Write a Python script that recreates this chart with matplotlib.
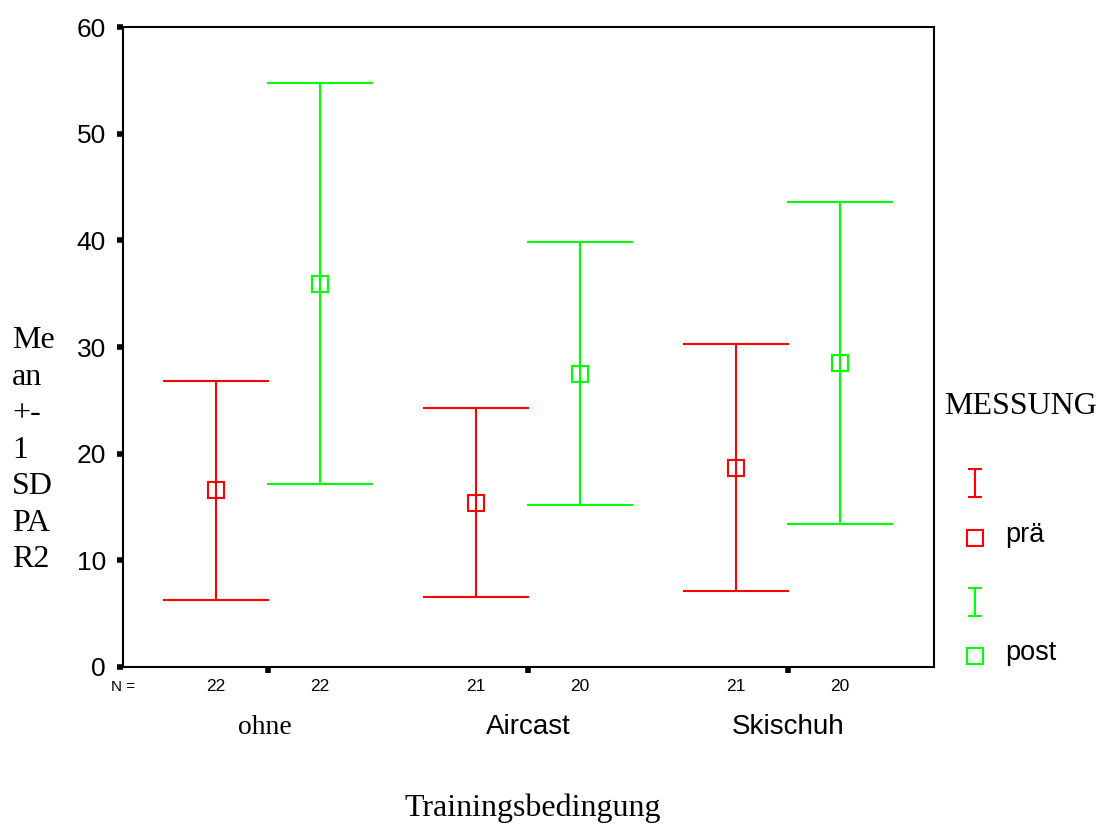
import matplotlib.pyplot as plt
from matplotlib.lines import Line2D
from matplotlib.path import Path
import numpy as np

# Daten (Mean +- 1 SD)
bedingungen = ["ohne", "Aircast", "Skischuh"]
mean_prae = [16.55, 15.4, 18.7]
sd_prae = [10.3, 8.87, 11.55]
mean_post = [35.95, 27.5, 28.5]
sd_post = [18.8, 12.34, 15.08]
n_prae = [22, 21, 21]
n_post = [22, 20, 20]
y_ticks = [0, 10, 20, 30, 40, 50, 60]

rot = "#ff0000"
gruen = "#00ff00"
serif = "Liberation Serif"
sans = "Liberation Sans"

fig = plt.figure(figsize=(11.01, 8.26), dpi=100)
ax = fig.add_axes([0.1117, 0.1925, 0.7366, 0.7748])

x = np.arange(1, len(bedingungen) + 1)
off = 0.2

ax.errorbar(x - off, mean_prae, yerr=sd_prae, fmt="s", mfc="none", mec=rot, ms=11.5,
            mew=1.5, ecolor=rot, elinewidth=1.5, capsize=38, capthick=1.5)
ax.errorbar(x + off, mean_post, yerr=sd_post, fmt="s", mfc="none", mec=gruen, ms=11.5,
            mew=1.5, ecolor=gruen, elinewidth=1.5, capsize=38, capthick=1.5)

ax.set_xlim(0.4423, 3.5615)
ax.set_ylim(0, 60)
ax.set_yticks(y_ticks)
ax.set_xticks(x)
ax.set_xticklabels([])
ax.tick_params(axis="both", direction="out", length=4.3, width=4, color="black")
ax.tick_params(axis="y", pad=8, labelsize=19)
for lab in ax.get_yticklabels():
    lab.set_fontfamily(sans)
for s in ax.spines.values():
    s.set_linewidth(1.5)

# N-Zeile
trans = ax.get_xaxis_transform()
ax.text(0.0, -0.031, "N =", transform=ax.transAxes, ha="center", va="center",
        fontsize=11, family=sans)
for i in range(len(bedingungen)):
    ax.text(x[i] - off, -0.031, str(n_prae[i]), transform=trans, ha="center", va="center",
            fontsize=12.5, family=sans)
    ax.text(x[i] + off, -0.031, str(n_post[i]), transform=trans, ha="center", va="center",
            fontsize=12.5, family=sans)

# Kategorien (ohne in Times, die anderen in Arial wie im Original)
for i, name in enumerate(bedingungen):
    fam = serif if i == 0 else sans
    dx = -0.012 if i == 0 else 0.0
    ax.text(x[i] + dx, -0.094, name, transform=trans, ha="center", va="center",
            fontsize=20, family=fam)

fig.text(533 / 1101, 1 - 808 / 826, "Trainingsbedingung", ha="center", va="center",
         fontsize=23, family=serif)
fig.text(12 / 1101, 0.455, "Me\nan\n+-\n1\nSD\nPA\nR2", ha="left", va="center",
         fontsize=23, family=serif, linespacing=1.34)

# Legende
fig.text(944 / 1101, 1 - 407 / 826, "MESSUNG", ha="left", va="center", fontsize=23, family=serif)
i_form = Path([(-0.26, 0.5), (0.26, 0.5), (0, 0.5), (0, -0.5), (-0.26, -0.5), (0.26, -0.5)],
              [Path.MOVETO, Path.LINETO, Path.MOVETO, Path.LINETO, Path.MOVETO, Path.LINETO])
lx = 975 / 1101
for farbe, y_i, y_s, text in [(rot, 483, 538, "prä"), (gruen, 602, 656, "post")]:
    fig.add_artist(Line2D([lx], [1 - y_i / 826], transform=fig.transFigure, marker=i_form,
                          ms=19.5, mfc="none", mec=farbe, mew=1.5, ls="none"))
    fig.add_artist(Line2D([lx], [1 - y_s / 826], transform=fig.transFigure, marker="s",
                          ms=11, mfc="none", mec=farbe, mew=1.5, ls="none"))
    fig.text(1005 / 1101, 1 - (y_s - 3) / 826, text, ha="left", va="center",
             fontsize=19.5, family=sans)

plt.savefig("out.png", dpi=100)
